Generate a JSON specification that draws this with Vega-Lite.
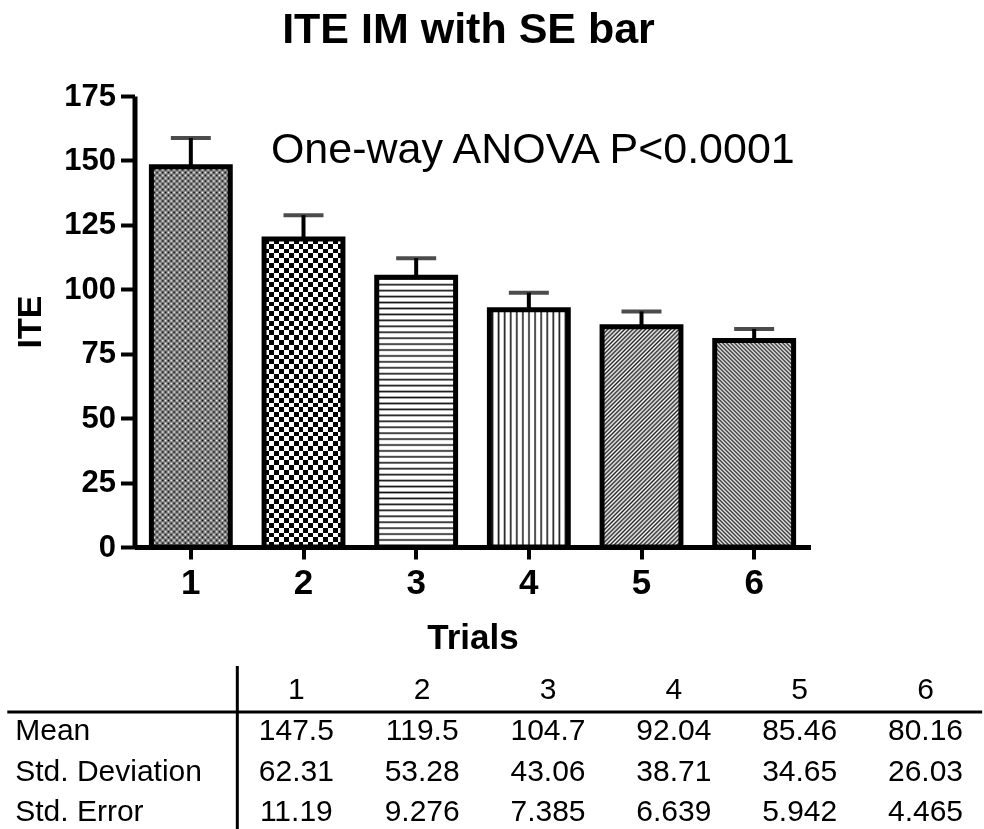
{
"$schema":"https://vega.github.io/schema/vega-lite/v6.json",
"background":"white",
"autosize":{"type":"pad"},
"padding":{"left":5.5,"top":9,"right":0,"bottom":0},
"config":{"view":{"stroke":null},"font":"Liberation Sans"},
"datasets":{
"stats":[
{"trial":"1","mean":147.5,"sd":62.31,"se":11.19},
{"trial":"2","mean":119.5,"sd":53.28,"se":9.276},
{"trial":"3","mean":104.7,"sd":43.06,"se":7.385},
{"trial":"4","mean":92.04,"sd":38.71,"se":6.639},
{"trial":"5","mean":85.46,"sd":34.65,"se":5.942},
{"trial":"6","mean":80.16,"sd":26.03,"se":4.465}
],
"rowLabels":[{"stat":"mean","label":"Mean"},{"stat":"sd","label":"Std. Deviation"},{"stat":"se","label":"Std. Error"}]
},
"bounds":"flush",
"spacing":119,
"vconcat":[
{
"width":676,"height":451,
"title":{"text":"ITE IM with SE bar","fontSize":43,"fontWeight":"bold","color":"black","font":"Liberation Sans","anchor":"middle","frame":"group","offset":28,"dx":-4},
"data":{"name":"stats"},
"encoding":{
"x":{"field":"trial","type":"ordinal","scale":{"type":"band","domain":["1","2","3","4","5","6"],"paddingInner":0.3,"paddingOuter":0.15},
"axis":{"title":"Trials","titleFontSize":35,"titleFontWeight":"bold","titleColor":"black","titlePadding":20,"labelFontSize":35,"labelFontWeight":"bold","labelColor":"black","labelPadding":6,"labelAngle":0,"tickSize":12,"tickWidth":4,"tickColor":"black","domainWidth":5,"domainColor":"black","grid":false}},
"y":{"field":"mean","type":"quantitative","scale":{"domain":[0,175],"nice":false},
"axis":{"title":"ITE","titleFontSize":34,"titleFontWeight":"bold","titleColor":"black","titlePadding":16,"labelFontSize":31,"labelFontWeight":"bold","labelColor":"black","labelPadding":5,"tickSize":14,"tickWidth":4,"tickColor":"black","domainWidth":5,"domainColor":"black","values":[0,25,50,75,100,125,150,175],"grid":false}}
},
"layer":[
{"mark":{"type":"errorbar","ticks":{"size":40,"thickness":4,"color":"black"},"rule":{"strokeWidth":4,"color":"black"}},
"encoding":{"yError":{"field":"se"}}},
{"transform":[{"filter":"datum.trial == '1'"}],
"mark":{"type":"bar","fill":{"gradient":"linear","x1":0,"y1":0,"x2":0,"y2":1,"stops":[
{"offset":0,"color":"#000"},{"offset":0.0075,"color":"#fff"},{"offset":0.015,"color":"#000"},{"offset":0.0225,"color":"#fff"},{"offset":0.03,"color":"#000"},{"offset":0.0375,"color":"#fff"},{"offset":0.045,"color":"#000"},{"offset":0.0525,"color":"#fff"},{"offset":0.06,"color":"#000"},{"offset":0.0675,"color":"#fff"},{"offset":0.075,"color":"#000"},{"offset":0.0825,"color":"#fff"},{"offset":0.09,"color":"#000"},{"offset":0.0975,"color":"#fff"},{"offset":0.105,"color":"#000"},{"offset":0.1125,"color":"#fff"},{"offset":0.12,"color":"#000"},{"offset":0.1275,"color":"#fff"},{"offset":0.135,"color":"#000"},{"offset":0.1425,"color":"#fff"},{"offset":0.15,"color":"#000"},{"offset":0.1575,"color":"#fff"},{"offset":0.165,"color":"#000"},{"offset":0.1725,"color":"#fff"},{"offset":0.18,"color":"#000"},{"offset":0.1875,"color":"#fff"},{"offset":0.195,"color":"#000"},{"offset":0.2025,"color":"#fff"},{"offset":0.21,"color":"#000"},{"offset":0.2175,"color":"#fff"},{"offset":0.225,"color":"#000"},{"offset":0.2325,"color":"#fff"},{"offset":0.24,"color":"#000"},{"offset":0.2475,"color":"#fff"},{"offset":0.255,"color":"#000"},{"offset":0.2625,"color":"#fff"},{"offset":0.27,"color":"#000"},{"offset":0.2775,"color":"#fff"},{"offset":0.285,"color":"#000"},{"offset":0.2925,"color":"#fff"},{"offset":0.3,"color":"#000"},{"offset":0.3075,"color":"#fff"},{"offset":0.315,"color":"#000"},{"offset":0.3225,"color":"#fff"},{"offset":0.33,"color":"#000"},{"offset":0.3375,"color":"#fff"},{"offset":0.345,"color":"#000"},{"offset":0.3525,"color":"#fff"},{"offset":0.36,"color":"#000"},{"offset":0.3675,"color":"#fff"},{"offset":0.375,"color":"#000"},{"offset":0.3825,"color":"#fff"},{"offset":0.39,"color":"#000"},{"offset":0.3975,"color":"#fff"},{"offset":0.405,"color":"#000"},{"offset":0.4125,"color":"#fff"},{"offset":0.42,"color":"#000"},{"offset":0.4275,"color":"#fff"},{"offset":0.435,"color":"#000"},{"offset":0.4425,"color":"#fff"},{"offset":0.45,"color":"#000"},{"offset":0.4575,"color":"#fff"},{"offset":0.465,"color":"#000"},{"offset":0.4725,"color":"#fff"},{"offset":0.48,"color":"#000"},{"offset":0.4875,"color":"#fff"},{"offset":0.495,"color":"#000"},{"offset":0.5025,"color":"#fff"},{"offset":0.51,"color":"#000"},{"offset":0.5175,"color":"#fff"},{"offset":0.525,"color":"#000"},{"offset":0.5325,"color":"#fff"},{"offset":0.54,"color":"#000"},{"offset":0.5475,"color":"#fff"},{"offset":0.555,"color":"#000"},{"offset":0.5625,"color":"#fff"},{"offset":0.57,"color":"#000"},{"offset":0.5775,"color":"#fff"},{"offset":0.585,"color":"#000"},{"offset":0.5925,"color":"#fff"},{"offset":0.6,"color":"#000"},{"offset":0.6075,"color":"#fff"},{"offset":0.615,"color":"#000"},{"offset":0.6225,"color":"#fff"},{"offset":0.63,"color":"#000"},{"offset":0.6375,"color":"#fff"},{"offset":0.645,"color":"#000"},{"offset":0.6525,"color":"#fff"},{"offset":0.66,"color":"#000"},{"offset":0.6675,"color":"#fff"},{"offset":0.675,"color":"#000"},{"offset":0.6825,"color":"#fff"},{"offset":0.69,"color":"#000"},{"offset":0.6975,"color":"#fff"},{"offset":0.705,"color":"#000"},{"offset":0.7125,"color":"#fff"},{"offset":0.72,"color":"#000"},{"offset":0.7275,"color":"#fff"},{"offset":0.735,"color":"#000"},{"offset":0.7425,"color":"#fff"},{"offset":0.75,"color":"#000"},{"offset":0.7575,"color":"#fff"},{"offset":0.765,"color":"#000"},{"offset":0.7725,"color":"#fff"},{"offset":0.78,"color":"#000"},{"offset":0.7875,"color":"#fff"},{"offset":0.795,"color":"#000"},{"offset":0.8025,"color":"#fff"},{"offset":0.81,"color":"#000"},{"offset":0.8175,"color":"#fff"},{"offset":0.825,"color":"#000"},{"offset":0.8325,"color":"#fff"},{"offset":0.84,"color":"#000"},{"offset":0.8475,"color":"#fff"},{"offset":0.855,"color":"#000"},{"offset":0.8625,"color":"#fff"},{"offset":0.87,"color":"#000"},{"offset":0.8775,"color":"#fff"},{"offset":0.885,"color":"#000"},{"offset":0.8925,"color":"#fff"},{"offset":0.9,"color":"#000"},{"offset":0.9075,"color":"#fff"},{"offset":0.915,"color":"#000"},{"offset":0.9225,"color":"#fff"},{"offset":0.93,"color":"#000"},{"offset":0.9375,"color":"#fff"},{"offset":0.945,"color":"#000"},{"offset":0.9525,"color":"#fff"},{"offset":0.96,"color":"#000"},{"offset":0.9675,"color":"#fff"},{"offset":0.975,"color":"#000"},{"offset":0.9825,"color":"#fff"},{"offset":0.99,"color":"#000"},{"offset":0.9975,"color":"#fff"}]}}},
{"transform":[{"filter":"datum.trial == '1'"}],
"mark":{"type":"bar","blend":"exclusion","fill":{"gradient":"linear","x1":0,"y1":0,"x2":1,"y2":0,"stops":[
{"offset":0,"color":"#000"},{"offset":0.036,"color":"#fff"},{"offset":0.072,"color":"#000"},{"offset":0.108,"color":"#fff"},{"offset":0.144,"color":"#000"},{"offset":0.18,"color":"#fff"},{"offset":0.216,"color":"#000"},{"offset":0.252,"color":"#fff"},{"offset":0.288,"color":"#000"},{"offset":0.324,"color":"#fff"},{"offset":0.36,"color":"#000"},{"offset":0.396,"color":"#fff"},{"offset":0.432,"color":"#000"},{"offset":0.468,"color":"#fff"},{"offset":0.504,"color":"#000"},{"offset":0.54,"color":"#fff"},{"offset":0.576,"color":"#000"},{"offset":0.612,"color":"#fff"},{"offset":0.648,"color":"#000"},{"offset":0.684,"color":"#fff"},{"offset":0.72,"color":"#000"},{"offset":0.756,"color":"#fff"},{"offset":0.792,"color":"#000"},{"offset":0.828,"color":"#fff"},{"offset":0.864,"color":"#000"},{"offset":0.9,"color":"#fff"},{"offset":0.936,"color":"#000"},{"offset":0.972,"color":"#fff"}]}}},
{"transform":[{"filter":"datum.trial == '2'"}],
"mark":{"type":"bar","fill":{"gradient":"linear","x1":0,"y1":0,"x2":0,"y2":1,"stops":[
{"offset":0,"color":"#fff"},{"offset":0.015625,"color":"#fff"},{"offset":0.015625,"color":"#000"},{"offset":0.03125,"color":"#000"},
{"offset":0.03125,"color":"#fff"},{"offset":0.046875,"color":"#fff"},{"offset":0.046875,"color":"#000"},{"offset":0.0625,"color":"#000"},
{"offset":0.0625,"color":"#fff"},{"offset":0.078125,"color":"#fff"},{"offset":0.078125,"color":"#000"},{"offset":0.09375,"color":"#000"},
{"offset":0.09375,"color":"#fff"},{"offset":0.109375,"color":"#fff"},{"offset":0.109375,"color":"#000"},{"offset":0.125,"color":"#000"},
{"offset":0.125,"color":"#fff"},{"offset":0.140625,"color":"#fff"},{"offset":0.140625,"color":"#000"},{"offset":0.15625,"color":"#000"},
{"offset":0.15625,"color":"#fff"},{"offset":0.171875,"color":"#fff"},{"offset":0.171875,"color":"#000"},{"offset":0.1875,"color":"#000"},
{"offset":0.1875,"color":"#fff"},{"offset":0.203125,"color":"#fff"},{"offset":0.203125,"color":"#000"},{"offset":0.21875,"color":"#000"},
{"offset":0.21875,"color":"#fff"},{"offset":0.234375,"color":"#fff"},{"offset":0.234375,"color":"#000"},{"offset":0.25,"color":"#000"},
{"offset":0.25,"color":"#fff"},{"offset":0.265625,"color":"#fff"},{"offset":0.265625,"color":"#000"},{"offset":0.28125,"color":"#000"},
{"offset":0.28125,"color":"#fff"},{"offset":0.296875,"color":"#fff"},{"offset":0.296875,"color":"#000"},{"offset":0.3125,"color":"#000"},
{"offset":0.3125,"color":"#fff"},{"offset":0.328125,"color":"#fff"},{"offset":0.328125,"color":"#000"},{"offset":0.34375,"color":"#000"},
{"offset":0.34375,"color":"#fff"},{"offset":0.359375,"color":"#fff"},{"offset":0.359375,"color":"#000"},{"offset":0.375,"color":"#000"},
{"offset":0.375,"color":"#fff"},{"offset":0.390625,"color":"#fff"},{"offset":0.390625,"color":"#000"},{"offset":0.40625,"color":"#000"},
{"offset":0.40625,"color":"#fff"},{"offset":0.421875,"color":"#fff"},{"offset":0.421875,"color":"#000"},{"offset":0.4375,"color":"#000"},
{"offset":0.4375,"color":"#fff"},{"offset":0.453125,"color":"#fff"},{"offset":0.453125,"color":"#000"},{"offset":0.46875,"color":"#000"},
{"offset":0.46875,"color":"#fff"},{"offset":0.484375,"color":"#fff"},{"offset":0.484375,"color":"#000"},{"offset":0.5,"color":"#000"},
{"offset":0.5,"color":"#fff"},{"offset":0.515625,"color":"#fff"},{"offset":0.515625,"color":"#000"},{"offset":0.53125,"color":"#000"},
{"offset":0.53125,"color":"#fff"},{"offset":0.546875,"color":"#fff"},{"offset":0.546875,"color":"#000"},{"offset":0.5625,"color":"#000"},
{"offset":0.5625,"color":"#fff"},{"offset":0.578125,"color":"#fff"},{"offset":0.578125,"color":"#000"},{"offset":0.59375,"color":"#000"},
{"offset":0.59375,"color":"#fff"},{"offset":0.609375,"color":"#fff"},{"offset":0.609375,"color":"#000"},{"offset":0.625,"color":"#000"},
{"offset":0.625,"color":"#fff"},{"offset":0.640625,"color":"#fff"},{"offset":0.640625,"color":"#000"},{"offset":0.65625,"color":"#000"},
{"offset":0.65625,"color":"#fff"},{"offset":0.671875,"color":"#fff"},{"offset":0.671875,"color":"#000"},{"offset":0.6875,"color":"#000"},
{"offset":0.6875,"color":"#fff"},{"offset":0.703125,"color":"#fff"},{"offset":0.703125,"color":"#000"},{"offset":0.71875,"color":"#000"},
{"offset":0.71875,"color":"#fff"},{"offset":0.734375,"color":"#fff"},{"offset":0.734375,"color":"#000"},{"offset":0.75,"color":"#000"},
{"offset":0.75,"color":"#fff"},{"offset":0.765625,"color":"#fff"},{"offset":0.765625,"color":"#000"},{"offset":0.78125,"color":"#000"},
{"offset":0.78125,"color":"#fff"},{"offset":0.796875,"color":"#fff"},{"offset":0.796875,"color":"#000"},{"offset":0.8125,"color":"#000"},
{"offset":0.8125,"color":"#fff"},{"offset":0.828125,"color":"#fff"},{"offset":0.828125,"color":"#000"},{"offset":0.84375,"color":"#000"},
{"offset":0.84375,"color":"#fff"},{"offset":0.859375,"color":"#fff"},{"offset":0.859375,"color":"#000"},{"offset":0.875,"color":"#000"},
{"offset":0.875,"color":"#fff"},{"offset":0.890625,"color":"#fff"},{"offset":0.890625,"color":"#000"},{"offset":0.90625,"color":"#000"},
{"offset":0.90625,"color":"#fff"},{"offset":0.921875,"color":"#fff"},{"offset":0.921875,"color":"#000"},{"offset":0.9375,"color":"#000"},
{"offset":0.9375,"color":"#fff"},{"offset":0.953125,"color":"#fff"},{"offset":0.953125,"color":"#000"},{"offset":0.96875,"color":"#000"},
{"offset":0.96875,"color":"#fff"},{"offset":0.984375,"color":"#fff"},{"offset":0.984375,"color":"#000"},{"offset":1,"color":"#000"}]}}},
{"transform":[{"filter":"datum.trial == '2'"}],
"mark":{"type":"bar","blend":"difference","fill":{"gradient":"linear","x1":0,"y1":0,"x2":1,"y2":0,"stops":[
{"offset":0,"color":"#fff"},{"offset":0.0625,"color":"#fff"},{"offset":0.0625,"color":"#000"},{"offset":0.125,"color":"#000"},
{"offset":0.125,"color":"#fff"},{"offset":0.1875,"color":"#fff"},{"offset":0.1875,"color":"#000"},{"offset":0.25,"color":"#000"},
{"offset":0.25,"color":"#fff"},{"offset":0.3125,"color":"#fff"},{"offset":0.3125,"color":"#000"},{"offset":0.375,"color":"#000"},
{"offset":0.375,"color":"#fff"},{"offset":0.4375,"color":"#fff"},{"offset":0.4375,"color":"#000"},{"offset":0.5,"color":"#000"},
{"offset":0.5,"color":"#fff"},{"offset":0.5625,"color":"#fff"},{"offset":0.5625,"color":"#000"},{"offset":0.625,"color":"#000"},
{"offset":0.625,"color":"#fff"},{"offset":0.6875,"color":"#fff"},{"offset":0.6875,"color":"#000"},{"offset":0.75,"color":"#000"},
{"offset":0.75,"color":"#fff"},{"offset":0.8125,"color":"#fff"},{"offset":0.8125,"color":"#000"},{"offset":0.875,"color":"#000"},
{"offset":0.875,"color":"#fff"},{"offset":0.9375,"color":"#fff"},{"offset":0.9375,"color":"#000"},{"offset":1,"color":"#000"}]}}},
{"transform":[{"filter":"datum.trial == '3'"}],
"mark":{"type":"bar","fill":{"gradient":"linear","x1":0,"y1":0,"x2":0,"y2":1,"stops":[
{"offset":0,"color":"#fff"},{"offset":0.006,"color":"#111"},{"offset":0.012,"color":"#fff"},
{"offset":0.022,"color":"#fff"},{"offset":0.028,"color":"#111"},{"offset":0.034,"color":"#fff"},
{"offset":0.044,"color":"#fff"},{"offset":0.05,"color":"#111"},{"offset":0.056,"color":"#fff"},
{"offset":0.066,"color":"#fff"},{"offset":0.072,"color":"#111"},{"offset":0.078,"color":"#fff"},
{"offset":0.088,"color":"#fff"},{"offset":0.094,"color":"#111"},{"offset":0.1,"color":"#fff"},
{"offset":0.11,"color":"#fff"},{"offset":0.116,"color":"#111"},{"offset":0.122,"color":"#fff"},
{"offset":0.132,"color":"#fff"},{"offset":0.138,"color":"#111"},{"offset":0.144,"color":"#fff"},
{"offset":0.154,"color":"#fff"},{"offset":0.16,"color":"#111"},{"offset":0.166,"color":"#fff"},
{"offset":0.176,"color":"#fff"},{"offset":0.182,"color":"#111"},{"offset":0.188,"color":"#fff"},
{"offset":0.198,"color":"#fff"},{"offset":0.204,"color":"#111"},{"offset":0.21,"color":"#fff"},
{"offset":0.22,"color":"#fff"},{"offset":0.226,"color":"#111"},{"offset":0.232,"color":"#fff"},
{"offset":0.242,"color":"#fff"},{"offset":0.248,"color":"#111"},{"offset":0.254,"color":"#fff"},
{"offset":0.264,"color":"#fff"},{"offset":0.27,"color":"#111"},{"offset":0.276,"color":"#fff"},
{"offset":0.286,"color":"#fff"},{"offset":0.292,"color":"#111"},{"offset":0.298,"color":"#fff"},
{"offset":0.308,"color":"#fff"},{"offset":0.314,"color":"#111"},{"offset":0.32,"color":"#fff"},
{"offset":0.33,"color":"#fff"},{"offset":0.336,"color":"#111"},{"offset":0.342,"color":"#fff"},
{"offset":0.352,"color":"#fff"},{"offset":0.358,"color":"#111"},{"offset":0.364,"color":"#fff"},
{"offset":0.374,"color":"#fff"},{"offset":0.38,"color":"#111"},{"offset":0.386,"color":"#fff"},
{"offset":0.396,"color":"#fff"},{"offset":0.402,"color":"#111"},{"offset":0.408,"color":"#fff"},
{"offset":0.418,"color":"#fff"},{"offset":0.424,"color":"#111"},{"offset":0.43,"color":"#fff"},
{"offset":0.44,"color":"#fff"},{"offset":0.446,"color":"#111"},{"offset":0.452,"color":"#fff"},
{"offset":0.462,"color":"#fff"},{"offset":0.468,"color":"#111"},{"offset":0.474,"color":"#fff"},
{"offset":0.484,"color":"#fff"},{"offset":0.49,"color":"#111"},{"offset":0.496,"color":"#fff"},
{"offset":0.506,"color":"#fff"},{"offset":0.512,"color":"#111"},{"offset":0.518,"color":"#fff"},
{"offset":0.528,"color":"#fff"},{"offset":0.534,"color":"#111"},{"offset":0.54,"color":"#fff"},
{"offset":0.55,"color":"#fff"},{"offset":0.556,"color":"#111"},{"offset":0.562,"color":"#fff"},
{"offset":0.572,"color":"#fff"},{"offset":0.578,"color":"#111"},{"offset":0.584,"color":"#fff"},
{"offset":0.594,"color":"#fff"},{"offset":0.6,"color":"#111"},{"offset":0.606,"color":"#fff"},
{"offset":0.616,"color":"#fff"},{"offset":0.622,"color":"#111"},{"offset":0.628,"color":"#fff"},
{"offset":0.638,"color":"#fff"},{"offset":0.644,"color":"#111"},{"offset":0.65,"color":"#fff"},
{"offset":0.66,"color":"#fff"},{"offset":0.666,"color":"#111"},{"offset":0.672,"color":"#fff"},
{"offset":0.682,"color":"#fff"},{"offset":0.688,"color":"#111"},{"offset":0.694,"color":"#fff"},
{"offset":0.704,"color":"#fff"},{"offset":0.71,"color":"#111"},{"offset":0.716,"color":"#fff"},
{"offset":0.726,"color":"#fff"},{"offset":0.732,"color":"#111"},{"offset":0.738,"color":"#fff"},
{"offset":0.748,"color":"#fff"},{"offset":0.754,"color":"#111"},{"offset":0.76,"color":"#fff"},
{"offset":0.77,"color":"#fff"},{"offset":0.776,"color":"#111"},{"offset":0.782,"color":"#fff"},
{"offset":0.792,"color":"#fff"},{"offset":0.798,"color":"#111"},{"offset":0.804,"color":"#fff"},
{"offset":0.814,"color":"#fff"},{"offset":0.82,"color":"#111"},{"offset":0.826,"color":"#fff"},
{"offset":0.836,"color":"#fff"},{"offset":0.842,"color":"#111"},{"offset":0.848,"color":"#fff"},
{"offset":0.858,"color":"#fff"},{"offset":0.864,"color":"#111"},{"offset":0.87,"color":"#fff"},
{"offset":0.88,"color":"#fff"},{"offset":0.886,"color":"#111"},{"offset":0.892,"color":"#fff"},
{"offset":0.902,"color":"#fff"},{"offset":0.908,"color":"#111"},{"offset":0.914,"color":"#fff"},
{"offset":0.924,"color":"#fff"},{"offset":0.93,"color":"#111"},{"offset":0.936,"color":"#fff"},
{"offset":0.946,"color":"#fff"},{"offset":0.952,"color":"#111"},{"offset":0.958,"color":"#fff"},
{"offset":0.968,"color":"#fff"},{"offset":0.974,"color":"#111"},{"offset":0.98,"color":"#fff"}]}}},
{"transform":[{"filter":"datum.trial == '4'"}],
"mark":{"type":"bar","fill":{"gradient":"linear","x1":0,"y1":0,"x2":1,"y2":0,"stops":[
{"offset":0.02,"color":"#fff"},{"offset":0.04,"color":"#111"},{"offset":0.06,"color":"#fff"},
{"offset":0.097,"color":"#fff"},{"offset":0.117,"color":"#111"},{"offset":0.137,"color":"#fff"},
{"offset":0.174,"color":"#fff"},{"offset":0.194,"color":"#111"},{"offset":0.214,"color":"#fff"},
{"offset":0.251,"color":"#fff"},{"offset":0.271,"color":"#111"},{"offset":0.291,"color":"#fff"},
{"offset":0.328,"color":"#fff"},{"offset":0.348,"color":"#111"},{"offset":0.368,"color":"#fff"},
{"offset":0.405,"color":"#fff"},{"offset":0.425,"color":"#111"},{"offset":0.445,"color":"#fff"},
{"offset":0.482,"color":"#fff"},{"offset":0.502,"color":"#111"},{"offset":0.522,"color":"#fff"},
{"offset":0.559,"color":"#fff"},{"offset":0.579,"color":"#111"},{"offset":0.599,"color":"#fff"},
{"offset":0.636,"color":"#fff"},{"offset":0.656,"color":"#111"},{"offset":0.676,"color":"#fff"},
{"offset":0.713,"color":"#fff"},{"offset":0.733,"color":"#111"},{"offset":0.753,"color":"#fff"},
{"offset":0.79,"color":"#fff"},{"offset":0.81,"color":"#111"},{"offset":0.83,"color":"#fff"},
{"offset":0.867,"color":"#fff"},{"offset":0.887,"color":"#111"},{"offset":0.907,"color":"#fff"},
{"offset":0.944,"color":"#fff"},{"offset":0.964,"color":"#111"},{"offset":0.984,"color":"#fff"}]}}},
{"transform":[{"filter":"datum.trial == '5'"}],
"mark":{"type":"bar","fill":{"gradient":"linear","x1":0,"y1":0,"x2":0.4311,"y2":1.2037,"stops":[
{"offset":0,"color":"#222"},{"offset":0.007,"color":"#fff"},{"offset":0.014,"color":"#222"},{"offset":0.021,"color":"#fff"},{"offset":0.028,"color":"#222"},{"offset":0.035,"color":"#fff"},{"offset":0.042,"color":"#222"},{"offset":0.049,"color":"#fff"},{"offset":0.056,"color":"#222"},{"offset":0.063,"color":"#fff"},{"offset":0.07,"color":"#222"},{"offset":0.077,"color":"#fff"},{"offset":0.084,"color":"#222"},{"offset":0.091,"color":"#fff"},{"offset":0.098,"color":"#222"},{"offset":0.105,"color":"#fff"},{"offset":0.112,"color":"#222"},{"offset":0.119,"color":"#fff"},{"offset":0.126,"color":"#222"},{"offset":0.133,"color":"#fff"},{"offset":0.14,"color":"#222"},{"offset":0.147,"color":"#fff"},{"offset":0.154,"color":"#222"},{"offset":0.161,"color":"#fff"},{"offset":0.168,"color":"#222"},{"offset":0.175,"color":"#fff"},{"offset":0.182,"color":"#222"},{"offset":0.189,"color":"#fff"},{"offset":0.196,"color":"#222"},{"offset":0.203,"color":"#fff"},{"offset":0.21,"color":"#222"},{"offset":0.217,"color":"#fff"},{"offset":0.224,"color":"#222"},{"offset":0.231,"color":"#fff"},{"offset":0.238,"color":"#222"},{"offset":0.245,"color":"#fff"},{"offset":0.252,"color":"#222"},{"offset":0.259,"color":"#fff"},{"offset":0.266,"color":"#222"},{"offset":0.273,"color":"#fff"},{"offset":0.28,"color":"#222"},{"offset":0.287,"color":"#fff"},{"offset":0.294,"color":"#222"},{"offset":0.301,"color":"#fff"},{"offset":0.308,"color":"#222"},{"offset":0.315,"color":"#fff"},{"offset":0.322,"color":"#222"},{"offset":0.329,"color":"#fff"},{"offset":0.336,"color":"#222"},{"offset":0.343,"color":"#fff"},{"offset":0.35,"color":"#222"},{"offset":0.357,"color":"#fff"},{"offset":0.364,"color":"#222"},{"offset":0.371,"color":"#fff"},{"offset":0.378,"color":"#222"},{"offset":0.385,"color":"#fff"},{"offset":0.392,"color":"#222"},{"offset":0.399,"color":"#fff"},{"offset":0.406,"color":"#222"},{"offset":0.413,"color":"#fff"},{"offset":0.42,"color":"#222"},{"offset":0.427,"color":"#fff"},{"offset":0.434,"color":"#222"},{"offset":0.441,"color":"#fff"},{"offset":0.448,"color":"#222"},{"offset":0.455,"color":"#fff"},{"offset":0.462,"color":"#222"},{"offset":0.469,"color":"#fff"},{"offset":0.476,"color":"#222"},{"offset":0.483,"color":"#fff"},{"offset":0.49,"color":"#222"},{"offset":0.497,"color":"#fff"},{"offset":0.504,"color":"#222"},{"offset":0.511,"color":"#fff"},{"offset":0.518,"color":"#222"},{"offset":0.525,"color":"#fff"},{"offset":0.532,"color":"#222"},{"offset":0.539,"color":"#fff"},{"offset":0.546,"color":"#222"},{"offset":0.553,"color":"#fff"},{"offset":0.56,"color":"#222"},{"offset":0.567,"color":"#fff"},{"offset":0.574,"color":"#222"},{"offset":0.581,"color":"#fff"},{"offset":0.588,"color":"#222"},{"offset":0.595,"color":"#fff"},{"offset":0.602,"color":"#222"},{"offset":0.609,"color":"#fff"},{"offset":0.616,"color":"#222"},{"offset":0.623,"color":"#fff"},{"offset":0.63,"color":"#222"},{"offset":0.637,"color":"#fff"},{"offset":0.644,"color":"#222"},{"offset":0.651,"color":"#fff"},{"offset":0.658,"color":"#222"},{"offset":0.665,"color":"#fff"},{"offset":0.672,"color":"#222"},{"offset":0.679,"color":"#fff"},{"offset":0.686,"color":"#222"},{"offset":0.693,"color":"#fff"},{"offset":0.7,"color":"#222"},{"offset":0.707,"color":"#fff"},{"offset":0.714,"color":"#222"},{"offset":0.721,"color":"#fff"},{"offset":0.728,"color":"#222"},{"offset":0.735,"color":"#fff"},{"offset":0.742,"color":"#222"},{"offset":0.749,"color":"#fff"},{"offset":0.756,"color":"#222"},{"offset":0.763,"color":"#fff"},{"offset":0.77,"color":"#222"},{"offset":0.777,"color":"#fff"},{"offset":0.784,"color":"#222"},{"offset":0.791,"color":"#fff"},{"offset":0.798,"color":"#222"},{"offset":0.805,"color":"#fff"},{"offset":0.812,"color":"#222"},{"offset":0.819,"color":"#fff"},{"offset":0.826,"color":"#222"},{"offset":0.833,"color":"#fff"},{"offset":0.84,"color":"#222"},{"offset":0.847,"color":"#fff"},{"offset":0.854,"color":"#222"},{"offset":0.861,"color":"#fff"},{"offset":0.868,"color":"#222"},{"offset":0.875,"color":"#fff"},{"offset":0.882,"color":"#222"},{"offset":0.889,"color":"#fff"},{"offset":0.896,"color":"#222"},{"offset":0.903,"color":"#fff"},{"offset":0.91,"color":"#222"},{"offset":0.917,"color":"#fff"},{"offset":0.924,"color":"#222"},{"offset":0.931,"color":"#fff"},{"offset":0.938,"color":"#222"},{"offset":0.945,"color":"#fff"},{"offset":0.952,"color":"#222"},{"offset":0.959,"color":"#fff"},{"offset":0.966,"color":"#222"},{"offset":0.973,"color":"#fff"},{"offset":0.98,"color":"#222"},{"offset":0.987,"color":"#fff"},{"offset":0.994,"color":"#222"},{"offset":1,"color":"#fff"}]}}},
{"transform":[{"filter":"datum.trial == '6'"}],
"mark":{"type":"bar","fill":{"gradient":"linear","x1":0,"y1":1,"x2":0.4604,"y2":-0.206,"stops":[
{"offset":0,"color":"#222"},{"offset":0.007,"color":"#fff"},{"offset":0.014,"color":"#222"},{"offset":0.021,"color":"#fff"},{"offset":0.028,"color":"#222"},{"offset":0.035,"color":"#fff"},{"offset":0.042,"color":"#222"},{"offset":0.049,"color":"#fff"},{"offset":0.056,"color":"#222"},{"offset":0.063,"color":"#fff"},{"offset":0.07,"color":"#222"},{"offset":0.077,"color":"#fff"},{"offset":0.084,"color":"#222"},{"offset":0.091,"color":"#fff"},{"offset":0.098,"color":"#222"},{"offset":0.105,"color":"#fff"},{"offset":0.112,"color":"#222"},{"offset":0.119,"color":"#fff"},{"offset":0.126,"color":"#222"},{"offset":0.133,"color":"#fff"},{"offset":0.14,"color":"#222"},{"offset":0.147,"color":"#fff"},{"offset":0.154,"color":"#222"},{"offset":0.161,"color":"#fff"},{"offset":0.168,"color":"#222"},{"offset":0.175,"color":"#fff"},{"offset":0.182,"color":"#222"},{"offset":0.189,"color":"#fff"},{"offset":0.196,"color":"#222"},{"offset":0.203,"color":"#fff"},{"offset":0.21,"color":"#222"},{"offset":0.217,"color":"#fff"},{"offset":0.224,"color":"#222"},{"offset":0.231,"color":"#fff"},{"offset":0.238,"color":"#222"},{"offset":0.245,"color":"#fff"},{"offset":0.252,"color":"#222"},{"offset":0.259,"color":"#fff"},{"offset":0.266,"color":"#222"},{"offset":0.273,"color":"#fff"},{"offset":0.28,"color":"#222"},{"offset":0.287,"color":"#fff"},{"offset":0.294,"color":"#222"},{"offset":0.301,"color":"#fff"},{"offset":0.308,"color":"#222"},{"offset":0.315,"color":"#fff"},{"offset":0.322,"color":"#222"},{"offset":0.329,"color":"#fff"},{"offset":0.336,"color":"#222"},{"offset":0.343,"color":"#fff"},{"offset":0.35,"color":"#222"},{"offset":0.357,"color":"#fff"},{"offset":0.364,"color":"#222"},{"offset":0.371,"color":"#fff"},{"offset":0.378,"color":"#222"},{"offset":0.385,"color":"#fff"},{"offset":0.392,"color":"#222"},{"offset":0.399,"color":"#fff"},{"offset":0.406,"color":"#222"},{"offset":0.413,"color":"#fff"},{"offset":0.42,"color":"#222"},{"offset":0.427,"color":"#fff"},{"offset":0.434,"color":"#222"},{"offset":0.441,"color":"#fff"},{"offset":0.448,"color":"#222"},{"offset":0.455,"color":"#fff"},{"offset":0.462,"color":"#222"},{"offset":0.469,"color":"#fff"},{"offset":0.476,"color":"#222"},{"offset":0.483,"color":"#fff"},{"offset":0.49,"color":"#222"},{"offset":0.497,"color":"#fff"},{"offset":0.504,"color":"#222"},{"offset":0.511,"color":"#fff"},{"offset":0.518,"color":"#222"},{"offset":0.525,"color":"#fff"},{"offset":0.532,"color":"#222"},{"offset":0.539,"color":"#fff"},{"offset":0.546,"color":"#222"},{"offset":0.553,"color":"#fff"},{"offset":0.56,"color":"#222"},{"offset":0.567,"color":"#fff"},{"offset":0.574,"color":"#222"},{"offset":0.581,"color":"#fff"},{"offset":0.588,"color":"#222"},{"offset":0.595,"color":"#fff"},{"offset":0.602,"color":"#222"},{"offset":0.609,"color":"#fff"},{"offset":0.616,"color":"#222"},{"offset":0.623,"color":"#fff"},{"offset":0.63,"color":"#222"},{"offset":0.637,"color":"#fff"},{"offset":0.644,"color":"#222"},{"offset":0.651,"color":"#fff"},{"offset":0.658,"color":"#222"},{"offset":0.665,"color":"#fff"},{"offset":0.672,"color":"#222"},{"offset":0.679,"color":"#fff"},{"offset":0.686,"color":"#222"},{"offset":0.693,"color":"#fff"},{"offset":0.7,"color":"#222"},{"offset":0.707,"color":"#fff"},{"offset":0.714,"color":"#222"},{"offset":0.721,"color":"#fff"},{"offset":0.728,"color":"#222"},{"offset":0.735,"color":"#fff"},{"offset":0.742,"color":"#222"},{"offset":0.749,"color":"#fff"},{"offset":0.756,"color":"#222"},{"offset":0.763,"color":"#fff"},{"offset":0.77,"color":"#222"},{"offset":0.777,"color":"#fff"},{"offset":0.784,"color":"#222"},{"offset":0.791,"color":"#fff"},{"offset":0.798,"color":"#222"},{"offset":0.805,"color":"#fff"},{"offset":0.812,"color":"#222"},{"offset":0.819,"color":"#fff"},{"offset":0.826,"color":"#222"},{"offset":0.833,"color":"#fff"},{"offset":0.84,"color":"#222"},{"offset":0.847,"color":"#fff"},{"offset":0.854,"color":"#222"},{"offset":0.861,"color":"#fff"},{"offset":0.868,"color":"#222"},{"offset":0.875,"color":"#fff"},{"offset":0.882,"color":"#222"},{"offset":0.889,"color":"#fff"},{"offset":0.896,"color":"#222"},{"offset":0.903,"color":"#fff"},{"offset":0.91,"color":"#222"},{"offset":0.917,"color":"#fff"},{"offset":0.924,"color":"#222"},{"offset":0.931,"color":"#fff"},{"offset":0.938,"color":"#222"},{"offset":0.945,"color":"#fff"},{"offset":0.952,"color":"#222"},{"offset":0.959,"color":"#fff"},{"offset":0.966,"color":"#222"},{"offset":0.973,"color":"#fff"},{"offset":0.98,"color":"#222"},{"offset":0.987,"color":"#fff"},{"offset":0.994,"color":"#222"},{"offset":1,"color":"#fff"}]}}},
{"mark":{"type":"bar","fill":"transparent","stroke":"black","strokeWidth":5}},
{"transform":[{"filter":"datum.trial == '4'"}],
"mark":{"type":"text","fontSize":43,"font":"Liberation Sans","align":"center","baseline":"alphabetic","dx":4,"fill":"black","text":"One-way ANOVA P<0.0001"},
"encoding":{"y":{"datum":149,"type":"quantitative"}}}
]
},
{
"width":848,"height":163,
"layer":[
{"data":{"name":"stats"},"transform":[{"fold":["mean","sd","se"],"as":["stat","value"]}],
"mark":{"type":"text","fontSize":30,"font":"Liberation Sans","align":"center","baseline":"alphabetic","color":"black"},
"encoding":{
"x":{"field":"trial","type":"quantitative","scale":{"domain":[0,6],"range":[36,791]},"axis":null},
"y":{"field":"stat","type":"nominal","bandPosition":0.811,"scale":{"type":"band","domain":["trial","mean","sd","se"],"paddingInner":0,"paddingOuter":0},"axis":null},
"text":{"field":"value","type":"nominal"}}},
{"data":{"name":"stats"},
"mark":{"type":"text","fontSize":30,"font":"Liberation Sans","align":"center","baseline":"alphabetic","color":"black"},
"encoding":{
"x":{"field":"trial","type":"quantitative"},
"y":{"datum":"trial","type":"nominal","bandPosition":0.811},
"text":{"field":"trial","type":"nominal"}}},
{"data":{"name":"rowLabels"},
"mark":{"type":"text","fontSize":30,"font":"Liberation Sans","align":"left","baseline":"alphabetic","color":"black"},
"encoding":{
"x":{"datum":-1.234,"type":"quantitative"},
"y":{"field":"stat","type":"nominal","bandPosition":0.811},
"text":{"field":"label","type":"nominal"}}},
{"data":{"values":[{}]},
"mark":{"type":"rule","strokeWidth":3,"color":"black"},
"encoding":{"x":{"datum":-1.297,"type":"quantitative"},"x2":{"datum":6.45},"y":{"datum":"mean","type":"nominal","bandPosition":0.13}}},
{"data":{"values":[{}]},
"mark":{"type":"rule","strokeWidth":3,"color":"black"},
"encoding":{"x":{"datum":0.531,"type":"quantitative"}}}
]
}
]
}
